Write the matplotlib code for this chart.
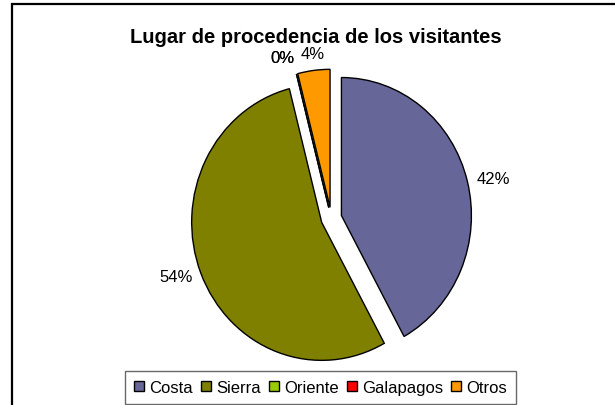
import numpy as np
import matplotlib
matplotlib.use('Agg')
import matplotlib.pyplot as plt
from matplotlib.patches import Rectangle

plt.rcParams['font.family'] = ['Liberation Sans', 'DejaVu Sans']

# datos
regiones = ['Costa', 'Sierra', 'Oriente', 'Galapagos', 'Otros']
porcentajes = [42, 54, 0, 0, 4]
colores = ['#666699', '#808000', '#99CC00', '#FF0000', '#FF9900']

fig = plt.figure(figsize=(6.15, 4.06), dpi=100)
ax = fig.add_axes([0, 0, 1, 1])

wedges, textos, pcts = ax.pie(
    porcentajes, colors=colores, startangle=90, counterclock=False,
    explode=[0.08] * len(porcentajes), autopct='%1.0f%%',
    wedgeprops=dict(edgecolor='black', linewidth=1.0),
    textprops=dict(fontsize=12, color='black'))

# labels sit just outside the slice, anchored on the side facing the pie
for w, t in zip(wedges, pcts):
    ang = np.deg2rad((w.theta1 + w.theta2) / 2)
    c, s = np.cos(ang), np.sin(ang)
    t.set_position((w.center[0] + 1.07 * c, w.center[1] + 1.07 * s))
    if c > 0.2:
        t.set_ha('left')
    elif c < -0.2:
        t.set_ha('right')
    else:
        t.set_ha('center')
    if s > 0.7:
        t.set_va('bottom')
    elif s < -0.7:
        t.set_va('top')
    else:
        t.set_va('center')

# the original pie is a bit squashed sideways
ax.set_aspect('auto')
ax.set_xlim(-2.549, 2.182)
ax.set_ylim(-1.353, 1.589)
ax.axis('off')

fig.text(0.514, 0.894, 'Lugar de procedencia de los visitantes',
         ha='center', va='baseline', fontsize=14.5, fontweight='bold')

leg = ax.legend(wedges, regiones, loc='upper center', ncol=5,
                bbox_to_anchor=(0.521, 1 - 371.5 / 406), bbox_transform=fig.transFigure,
                fontsize=12, frameon=True, fancybox=False,
                handlelength=0.6, handleheight=0.6, handletextpad=0.3,
                columnspacing=0.5, borderpad=0.55, borderaxespad=0)
leg.get_frame().set_edgecolor('#444444')
leg.get_frame().set_linewidth(1.0)

# outer chart border (runs off the right and bottom edge)
fig.patches.append(Rectangle((12 / 615, -0.1), 1.2, 1.1 - 5 / 406,
                             transform=fig.transFigure, fill=False,
                             edgecolor='black', linewidth=1.6))

plt.savefig('out.png', dpi=100)
